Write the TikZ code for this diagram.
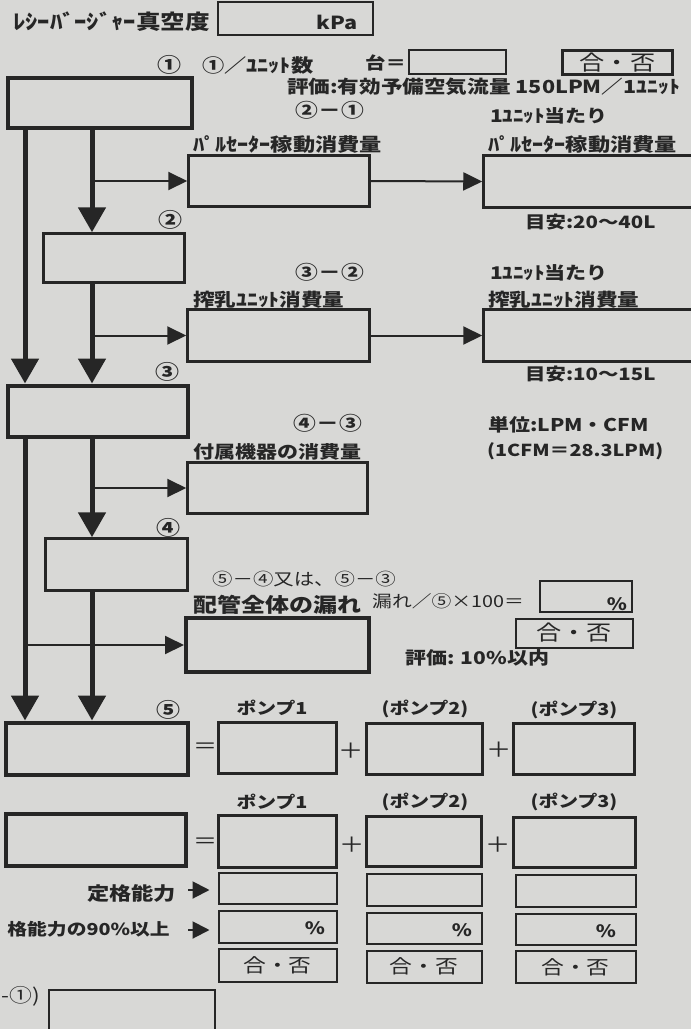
\documentclass[tikz,border=0pt]{standalone}
\usepackage{fontspec}
\setmainfont{Noto Sans CJK JP}[FakeStretch=1.2]
\usetikzlibrary{arrows.meta}
\definecolor{ink}{RGB}{38,38,38}
\definecolor{paper}{RGB}{216,216,214}
\newcommand\fsz[1]{\fontsize{#1pt}{#1pt}\selectfont}
\begin{document}
\begin{tikzpicture}[x=1pt,y=-1pt,
  txt/.style={inner sep=0pt, text=ink, font=\bfseries\fsz{#1}},
  rtxt/.style={inner sep=0pt, text=ink, font=\fsz{#1}},
  bx/.style={draw=ink, line width=2.5pt, inner sep=0pt},
  tbx/.style={draw=ink, line width=4pt, inner sep=0pt},
  sbx/.style={draw=ink, line width=2pt, inner sep=0pt},
  sz/.style 2 args={minimum width=#1pt, minimum height=#2pt},
  bigarrow/.style={draw=ink, line width=5pt, -{Triangle[width=27pt,length=25pt]}},
  smallarrow/.style={draw=ink, line width=2pt, -{Triangle[width=18pt,length=19pt]}},
  tinyarrow/.style={draw=ink, line width=2pt, -{Triangle[width=17pt,length=17pt]}, shorten >=8pt},
]
\useasboundingbox (0,0) rectangle (691,1029);
\clip (0,0) rectangle (691,1029);
\fill[paper] (0,0) rectangle (691,1029);

% ---------- top line ----------
\node[txt=20.5, anchor=west] (title) at (13,22) {ﾚｼｰﾊﾞｰｼﾞｬｰ真空度};
\node[sbx, sz={155}{33}] (vac) at (295.5,18.5) {};
\node[txt=18, anchor=east] (kpa) at (358,22) {kPa};

\node[txt=20] (n1) at (169,65) {①};
\node[txt=18.5, anchor=west] (perunit) at (202,65) {①／ﾕﾆｯﾄ数};
\node[txt=17, anchor=west] (dai) at (365,63) {台＝};
\node[sbx, sz={97}{24}] (daibox) at (457,62) {};
\node[sbx, line width=3pt, sz={110}{24}, text=ink, font=\fsz{21}] (gohi1) at (617.5,62.5) {合・否};
\node[txt=18, anchor=west] (eval1) at (287,87) {評価:有効予備空気流量 150LPM／1ﾕﾆｯﾄ};

% ---------- main boxes ----------
\node[tbx, sz={184}{50}] (b1) at (99.5,102.5) {};
\node[bx, sz={141}{49}] (b2) at (114,258) {};
\node[tbx, sz={180}{51}] (b3) at (97.5,411) {};
\node[bx, sz={142}{52}] (b4) at (116.5,564.5) {};
\node[tbx, sz={182}{52}] (b5) at (96.5,748.5) {};

\node[txt=20] (n2) at (170,220) {②};
\node[txt=20] (n3) at (167,372) {③};
\node[txt=20] (n4) at (168,528) {④};
\node[txt=20] (n5) at (168,710) {⑤};

% ---------- pulsator ----------
\node[txt=19] (d21) at (330,110) {②－①};
\node[txt=17.5, anchor=west] (per1) at (490,116) {1ﾕﾆｯﾄ当たり};
\node[txt=18.5, anchor=west] (pullbl) at (193,145) {ﾊﾟﾙｾｰﾀｰ稼動消費量};
\node[txt=18.5, anchor=west] (pullblR) at (488,145) {ﾊﾟﾙｾｰﾀｰ稼動消費量};
\node[bx, sz={181}{51}] (pul) at (279,181) {};
\node[bx, sz={211}{52}] (pulR) at (589,181.5) {};
\node[txt=17, anchor=west] (guide1) at (525,222) {目安:20〜40L};

% ---------- milking unit ----------
\node[txt=19] (d32) at (330,272) {③－②};
\node[txt=17.5, anchor=west] (per2) at (490,273) {1ﾕﾆｯﾄ当たり};
\node[txt=18, anchor=west] (milklbl) at (193,300) {搾乳ﾕﾆｯﾄ消費量};
\node[txt=18, anchor=west] (milklblR) at (488,300) {搾乳ﾕﾆｯﾄ消費量};
\node[bx, sz={182}{52}] (milk) at (278.5,335.5) {};
\node[bx, sz={211}{52}] (milkR) at (589,335.5) {};
\node[txt=17, anchor=west] (guide2) at (525,374) {目安:10〜15L};

% ---------- units ----------
\node[txt=17.5, anchor=west] (unit1) at (488,425) {単位:LPM・CFM};
\node[txt=16.5, anchor=west] (unit2) at (487,451) {(1CFM＝28.3LPM)};

% ---------- accessories ----------
\node[txt=19] (d43) at (328,423) {④－③};
\node[txt=17.5, anchor=west] (acclbl) at (193,452) {付属機器の消費量};
\node[bx, sz={180}{51}] (acc) at (277.5,488) {};

% ---------- leak ----------
\node[rtxt=17, anchor=west] (d54) at (212,579) {⑤－④又は、⑤－③};
\node[txt=20, anchor=west] (leaklbl) at (193,605) {配管全体の漏れ};
\node[rtxt=16.5, anchor=west] (leakf) at (372,601) {漏れ／⑤×100＝};
\node[sbx, sz={92}{31}] (pct) at (585.5,596) {};
\node[txt=17] (pcts) at (617,604) {\%};
\node[sbx, sz={117}{29}, text=ink, font=\fsz{21}] (gohi2) at (574,633) {合・否};
\node[txt=17.5, anchor=west] (eval2) at (405,658) {評価: 10\%以内};
\node[tbx, sz={183}{54}] (leak) at (277.5,645) {};

% ---------- connectors ----------
\coordinate (L) at (25,0);
\coordinate (M) at (92,0);
\draw[bigarrow] (b1.south -| L) -- (b3.north -| L);
\draw[bigarrow] (b1.south -| M) -- (b2.north -| M);
\draw[bigarrow] (b2.south -| M) -- (b3.north -| M);
\draw[bigarrow] (b3.south -| L) -- (b5.north -| L);
\draw[bigarrow] (b3.south -| M) -- (b4.north -| M);
\draw[bigarrow] (b4.south -| M) -- (b5.north -| M);
\draw[smallarrow] (pul.west -| M) -- (pul.west);
\draw[smallarrow] (milk.west -| M) -- (milk.west);
\draw[smallarrow] (acc.west -| M) -- (acc.west);
\draw[smallarrow] (leak.west -| L) -- (leak.west);
\draw[smallarrow] (pul.east) -- (pulR.west);
\draw[smallarrow] (milk.east) -- (milkR.west);

% ---------- pumps row 1 ----------
\node[txt=16.5] (pa1) at (272,708) {ポンプ1};
\node[txt=16.5] (pa2) at (425,709) {(ポンプ2)};
\node[txt=16.5] (pa3) at (574,710) {(ポンプ3)};
\node[bx, sz={118}{51}] (p11) at (277.5,748) {};
\node[bx, sz={116}{51}] (p12) at (424.5,749) {};
\node[bx, sz={121}{51}] (p13) at (574,749) {};
\node[rtxt=20] (eq1) at (205,748) {＝};
\node[rtxt=21] (pl11) at (351,751) {＋};
\node[rtxt=21] (pl12) at (499,750) {＋};

% ---------- pumps row 2 ----------
\node[txt=16.5] (pb1) at (272,802) {ポンプ1};
\node[txt=16.5] (pb2) at (425,802) {(ポンプ2)};
\node[txt=16.5] (pb3) at (574,802) {(ポンプ3)};
\node[tbx, sz={180}{52}] (r2) at (96,840) {};
\node[bx, sz={118}{52}] (p21) at (277.5,841.5) {};
\node[bx, sz={115}{50}] (p22) at (424,841.5) {};
\node[bx, sz={122}{50}] (p23) at (574.5,842.5) {};
\node[rtxt=20] (eq2) at (205,843) {＝};
\node[rtxt=21] (pl21) at (352,845) {＋};
\node[rtxt=21] (pl22) at (498,845) {＋};

% ---------- rated capacity ----------
\node[txt=18.5, anchor=east] (ratedlbl) at (176,893) {定格能力};
\node[sbx, sz={118}{31}] (rt1) at (277.5,888) {};
\node[sbx, sz={115}{32}] (rt2) at (424,889.5) {};
\node[sbx, sz={120}{32}] (rt3) at (575.5,890.5) {};
\coordinate (ra) at (188,890);
\draw[tinyarrow] (ra) -- (ra -| rt1.west);

\node[txt=16.5, anchor=east] (pctlbl) at (170,929) {格能力の90\%以上};
\node[sbx, sz={118}{32}] (pc1) at (277.5,926.5) {};
\node[sbx, sz={115}{31}] (pc2) at (424,928) {};
\node[sbx, sz={120}{31}] (pc3) at (575.5,929) {};
\coordinate (rb) at (188,930);
\draw[tinyarrow] (rb) -- (rb -| pc1.west);
\node[txt=17] (pcs1) at (315,928) {\%};
\node[txt=17] (pcs2) at (462,930) {\%};
\node[txt=17] (pcs3) at (606,931) {\%};

\node[sbx, sz={118}{33}, text=ink, font=\fsz{19}] (g1) at (277.5,965) {合・否};
\node[sbx, sz={115}{32}, text=ink, font=\fsz{19}] (g2) at (424,966.5) {合・否};
\node[sbx, sz={120}{32}, text=ink, font=\fsz{19}] (g3) at (575.5,967) {合・否};

% ---------- bottom ----------
\node[rtxt=19, anchor=east] (last) at (40,996) {-①)};
\node[sbx, sz={166}{50}] (lastbox) at (131.5,1015) {};
\end{tikzpicture}
\end{document}
